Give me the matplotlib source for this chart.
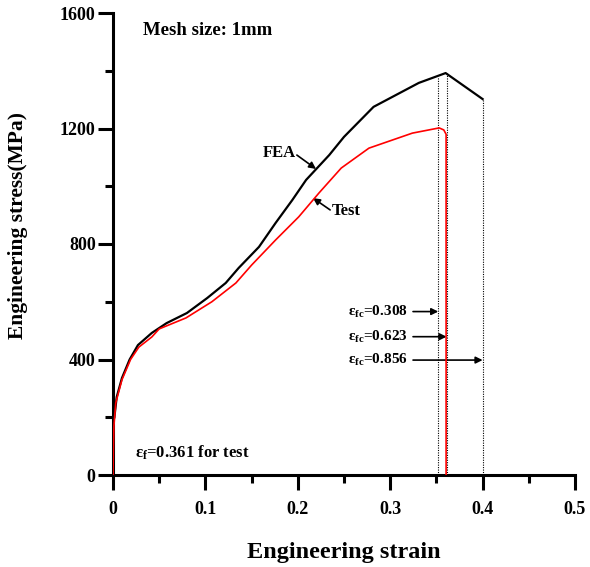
import matplotlib
matplotlib.use("Agg")
import matplotlib.pyplot as plt
from matplotlib.ticker import MultipleLocator

# ---- data ----
fea_strain = [0.0015, 0.004, 0.0097, 0.018, 0.027, 0.042, 0.058, 0.080, 0.102, 0.122,
              0.136, 0.158, 0.176, 0.194, 0.209, 0.234, 0.250, 0.282, 0.331, 0.360, 0.400]
fea_stress = [200, 270, 336, 400, 450, 492, 526, 561, 613, 665,
              717, 790, 873, 952, 1022, 1108, 1171, 1275, 1358, 1392, 1302]

test_strain = [0, 0.0005, 0.001, 0.003, 0.0097, 0.019, 0.028, 0.042, 0.050, 0.079,
               0.107, 0.133, 0.150, 0.176, 0.201, 0.223, 0.247, 0.277, 0.324, 0.353,
               0.358, 0.3605, 0.3605]
test_stress = [0, 100, 170, 250, 330, 400, 443, 478, 506, 544,
               600, 665, 727, 814, 894, 977, 1063, 1132, 1184, 1202,
               1195, 1180, 0]

fc_strain = [0.352, 0.361, 0.400]
fc_top = [1379, 1392, 1302]
fc_labels = ["0.308", "0.623", "0.856"]
fc_label_y = [566, 479, 398]

x_ticks = [0, 0.1, 0.2, 0.3, 0.4, 0.5]
x_ticklabels = ["0", "0.1", "0.2", "0.3", "0.4", "0.5"]
y_ticks = [0, 400, 800, 1200, 1600]

plt.rcParams['font.family'] = ['Liberation Serif', 'DejaVu Serif']
plt.rcParams['font.weight'] = 'bold'
plt.rcParams['mathtext.fontset'] = 'custom'
plt.rcParams['mathtext.rm'] = 'Liberation Serif:bold'
plt.rcParams['mathtext.bf'] = 'Liberation Serif:bold'
plt.rcParams['mathtext.it'] = 'Liberation Serif:bold'

fig = plt.figure(figsize=(5.9, 5.67), dpi=100)
ax = fig.add_axes([113/590, 1-475/567, (575-113)/590, (475-13)/567])

ax.plot(fea_strain, fea_stress, color='black', lw=1.6, zorder=3)
ax.plot(test_strain, test_stress, color='red', lw=1.2, zorder=4)

for xs, yt in zip(fc_strain, fc_top):
    ax.plot([xs, xs], [0, yt], color='black', lw=0.8, ls=(0, (1, 1.2)), zorder=2)

arrow_kw = dict(arrowstyle='-|>', color='black', lw=1.2, mutation_scale=10, shrinkA=0, shrinkB=0)

for lab, yy, xs in zip(fc_labels, fc_label_y, fc_strain):
    ax.text(0.319, yy, "ε$_{\\mathregular{fc}}$=" + lab, ha='right', va='center',
            fontsize=11, fontweight='bold')
    ax.annotate("", xy=(xs, yy), xytext=(0.3247, yy), arrowprops=arrow_kw)

ax.text(0.0325, 1541, "Mesh size: 1mm", ha='left', va='center', fontsize=13.5, fontweight='bold')
ax.text(0.024, 76, "ε$_{\\mathregular{f}}$=0.361 for test", ha='left', va='center',
        fontsize=12, fontweight='bold')

ax.text(0.162, 1115, "FEA", ha='left', va='center', fontsize=12, fontweight='bold')
ax.annotate("", xy=(0.2197, 1060), xytext=(0.199, 1108), arrowprops=arrow_kw)
ax.text(0.237, 914, "Test", ha='left', va='center', fontsize=12, fontweight='bold')
ax.annotate("", xy=(0.2165, 959), xytext=(0.235, 918), arrowprops=arrow_kw)

ax.set_xlim(0, 0.5)
ax.set_ylim(0, 1600)
ax.set_xticks(x_ticks)
ax.set_xticklabels(x_ticklabels)
ax.set_yticks(y_ticks)
ax.xaxis.set_minor_locator(MultipleLocator(0.05))
ax.yaxis.set_minor_locator(MultipleLocator(200))

for s in ['top', 'right']:
    ax.spines[s].set_visible(False)
for s in ['left', 'bottom']:
    ax.spines[s].set_linewidth(2.2)

ax.tick_params(which='major', direction='out', length=11, width=2.2, labelsize=13)
ax.tick_params(axis='x', which='major', pad=8)
ax.tick_params(axis='y', which='major', pad=1.5)
ax.tick_params(which='minor', direction='out', length=5.5, width=2.2)
for lab in ax.get_xticklabels() + ax.get_yticklabels():
    lab.set_fontweight('bold')

ax.set_xlabel("Engineering strain", fontsize=17.5, fontweight='bold')
ax.set_ylabel("Engineering stress(MPa)", fontsize=15.5, fontweight='bold')
ax.xaxis.set_label_coords(0.5, -0.146)
ax.yaxis.set_label_coords(-0.183, 0.54)

fig.savefig("out.png", dpi=100)
